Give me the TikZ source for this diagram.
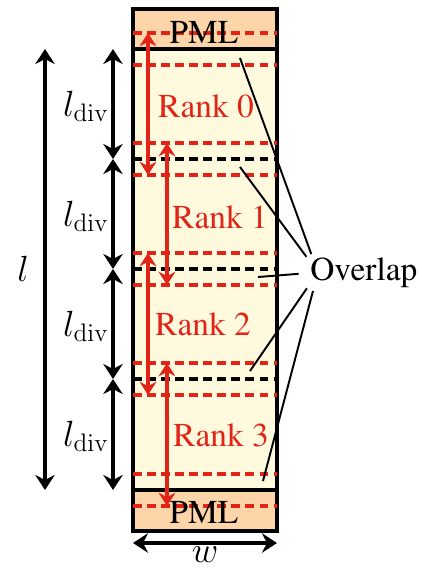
\documentclass[tikz,border=0pt]{standalone}
\usepackage[T1]{fontenc}
\usetikzlibrary{arrows.meta}
\newcommand{\timesfont}{\fontfamily{ptm}\selectfont}
\newcommand{\labelsize}{\fontsize{19pt}{22pt}\selectfont}
\definecolor{pmlorange}{RGB}{253, 213, 168}
\definecolor{domcream}{RGB}{255, 249, 222}
\definecolor{rankred}{RGB}{226, 36, 24}
\tikzset{
  pmlbox/.style   = {fill=pmlorange},
  dombox/.style   = {fill=domcream},
  boxframe/.style = {draw=black, line width=1.9pt},
  ovlred/.style   = {rankred, line width=1.8pt, dash pattern=on 5pt off 3pt},
  divblack/.style = {black, line width=1.8pt, dash pattern=on 5pt off 3pt},
  rankarr/.style  = {{Stealth[length=7.5pt, width=9.5pt]}-{Stealth[length=7.5pt, width=9.5pt]}, rankred, line width=2.1pt},
  dimarr/.style   = {{Stealth[length=8.5pt, width=11pt]}-{Stealth[length=8.5pt, width=11pt]}, black, line width=2.1pt},
  ranklbl/.style  = {rankred, font=\timesfont\labelsize, inner sep=0pt, anchor=base},
  pmllbl/.style   = {black, font=\timesfont\labelsize, inner sep=0pt, anchor=base},
  dimlbl/.style   = {black, font=\fontsize{20pt}{24pt}\selectfont, inner sep=0pt},
  callout/.style  = {black, line width=1.1pt, shorten >=11pt},
}

\begin{document}
\begin{tikzpicture}[x=0.02cm, y=-0.02cm]
\useasboundingbox (0,0) rectangle (422,569);

% 区域填充：上下 PML，中间计算域
\fill[pmlbox] (133,9) rectangle (277,49);
\fill[dombox] (133,49) rectangle (277,490);
\fill[pmlbox] (133,490) rectangle (277,531);

% 外框与 PML 边界
\draw[boxframe] (133,9) rectangle (277,531);
\draw[boxframe] (133,49) -- (277,49);
\draw[boxframe] (133,490) -- (277,490);

% 子域分界（黑色虚线）
\foreach \y in {159,269,379}
  \draw[divblack] (133,\y) -- (277,\y);

% 重叠区边界（红色虚线）
\foreach \y in {49,159,269,379,490} {
  \draw[ovlred] (133,\y-16) -- (277,\y-16);
  \draw[ovlred] (133,\y+16) -- (277,\y+16);
}

% 各 rank 的范围
\foreach \i/\x/\a/\b in {0/148/49/159, 1/167/159/269, 2/148/269/379, 3/167/379/490}
  \draw[rankarr] (\x,\a-16) -- (\x,\b+16);
\node[ranklbl] (rank0) at (206,117) {Rank 0};
\node[ranklbl] (rank1) at (220,228) {Rank 1};
\node[ranklbl] (rank2) at (203,335) {Rank 2};
\node[ranklbl] (rank3) at (221,446) {Rank 3};

% PML 标注
\node[pmllbl] (pmltop) at (204,43) {PML};
\node[pmllbl] (pmlbot) at (204,523) {PML};

% 尺寸：总长 l 与子域长度
\draw[dimarr] (45,49) -- (45,490);
\node[dimlbl, anchor=base] (lenl) at (23,281) {$l$};
\foreach \i/\a/\b in {0/49/159, 1/159/269, 2/269/379, 3/379/490} {
  \draw[dimarr] (113,\a) -- (113,\b);
  \node[dimlbl, anchor=base east] (ldiv\i) at (109,{(\a+\b)/2+12}) {$l_{\mathrm{div}}$};
}

% 宽度 w
\draw[dimarr] (133,543) -- (277,543);
\node[dimlbl, anchor=base] (lenw) at (205,562) {$w$};

% Overlap 引线
\node[font=\timesfont\labelsize, inner sep=0pt, anchor=base west] (ovl) at (310,280) {Overlap};
\coordinate (hub) at ([xshift=4.5pt]ovl.west);
\coordinate (ov0) at (240,58);
\coordinate (ov1) at (240,167);
\coordinate (ov2) at (258,277);
\coordinate (ov3) at (250,371);
\coordinate (ov4) at (263,481);
\foreach \k in {0,...,4}
  \draw[callout] (ov\k) -- (hub);

\end{tikzpicture}
\end{document}
